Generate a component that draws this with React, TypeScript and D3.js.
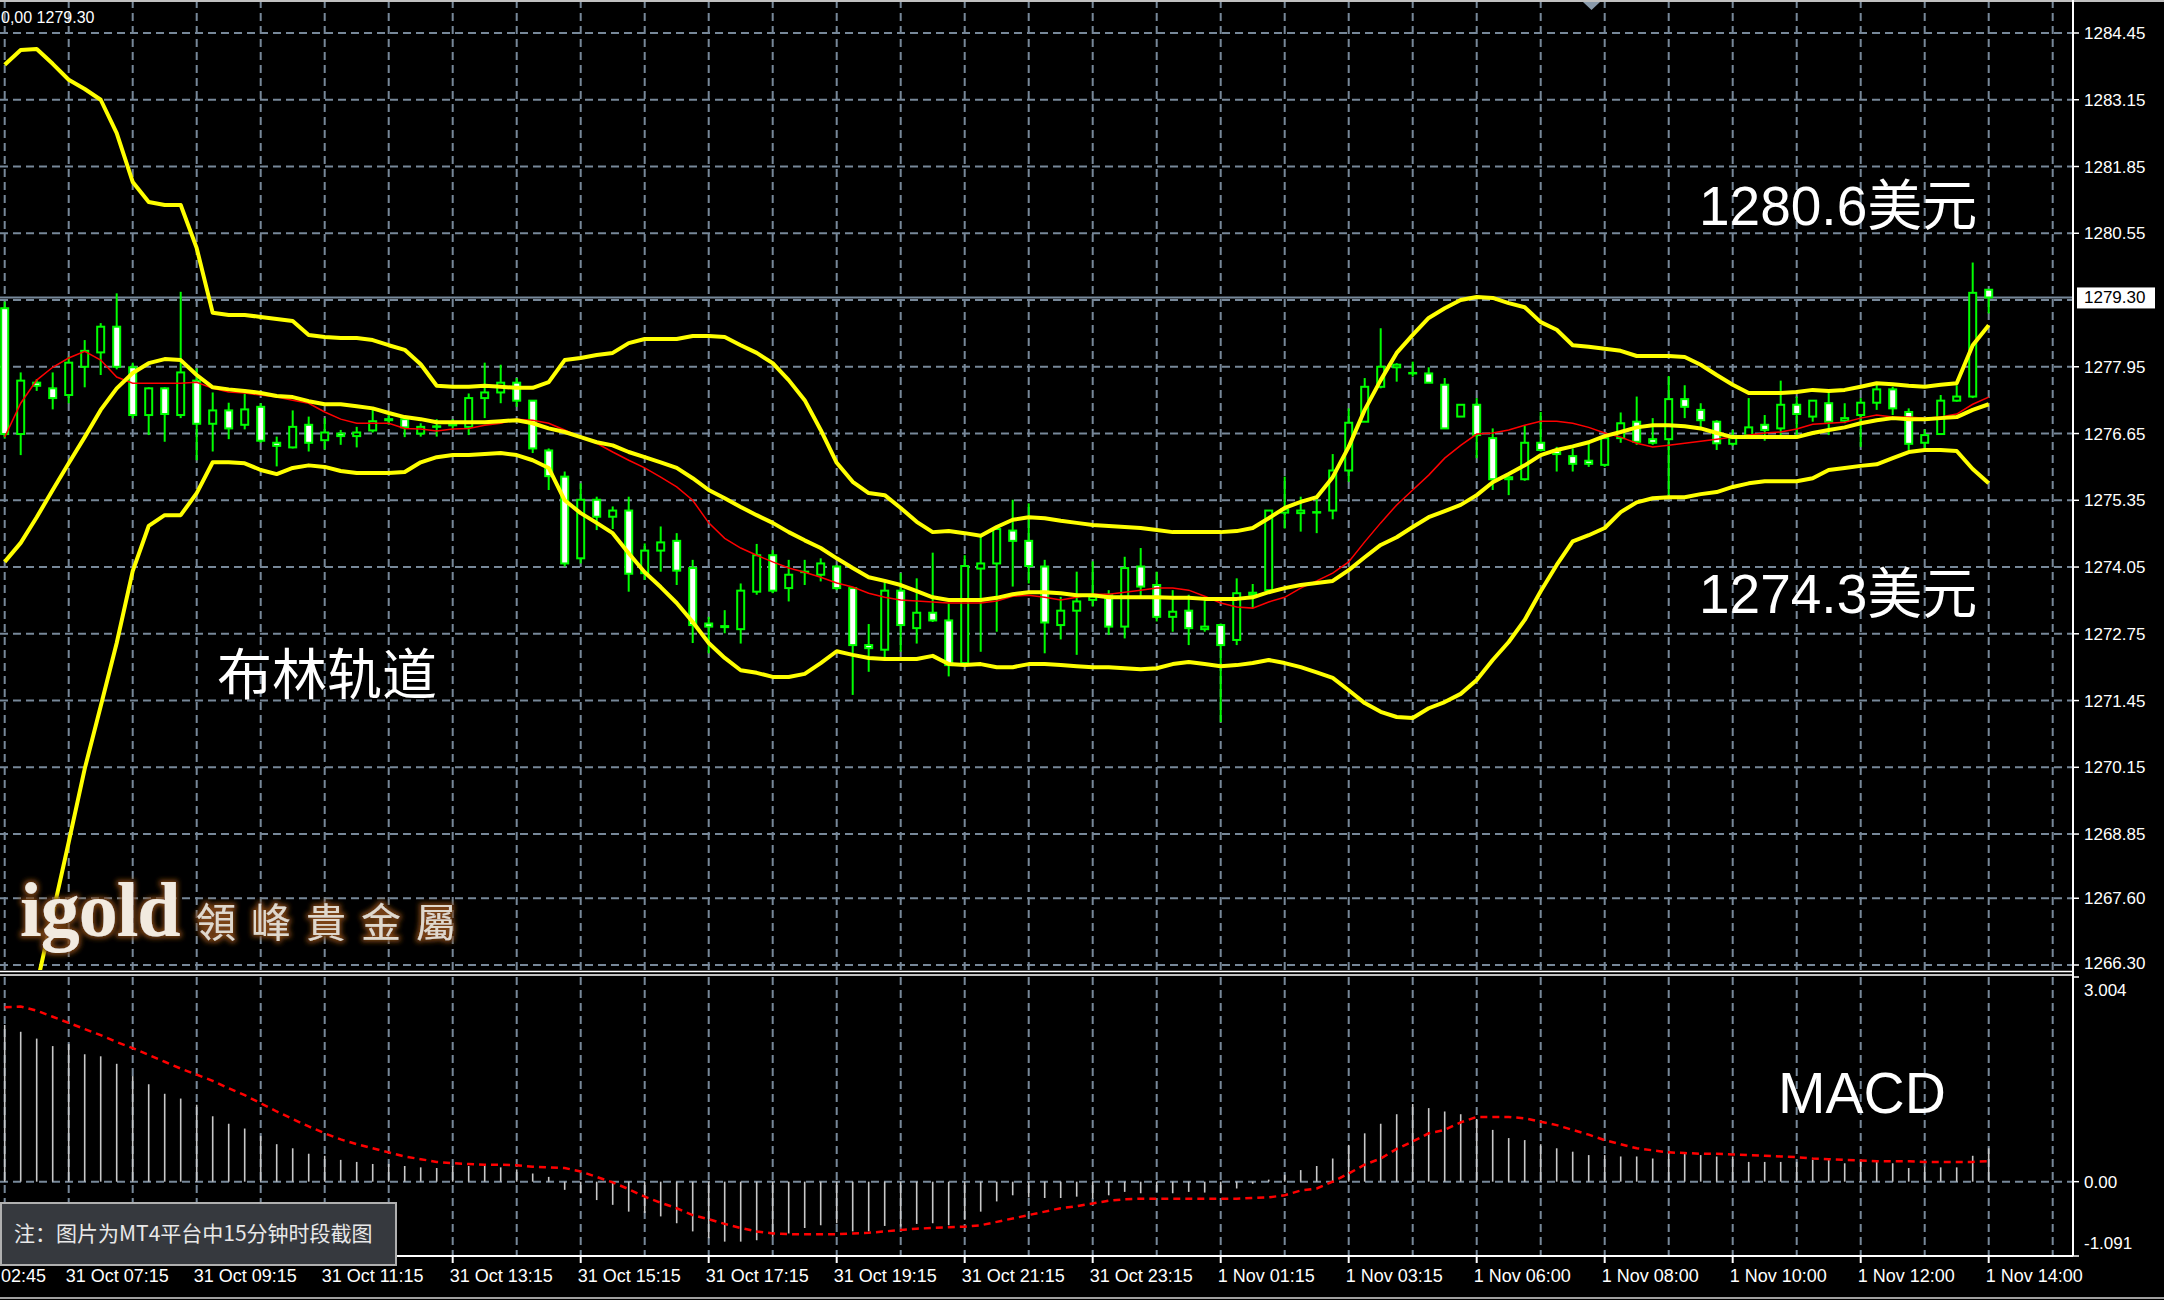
import * as d3 from 'd3';
import { useEffect } from 'react';

const W = 2164;
const H = 1300;

// XAUUSD M15 bars (one value per bar)
const opens = [
  1279.09, 1276.64, 1277.64, 1277.53, 1277.40, 1277.95, 1278.23, 1278.73, 1277.94, 1277.01,
  1277.53, 1277.01, 1277.68, 1276.84, 1277.10, 1276.82, 1277.17, 1276.47, 1276.38, 1276.82,
  1276.52, 1276.65, 1276.60, 1276.71, 1276.91, 1276.93, 1276.65, 1276.78, 1276.81, 1276.78,
  1277.34, 1277.45, 1277.64, 1277.29, 1276.32, 1275.81, 1274.22, 1275.36, 1275.03, 1275.15,
  1273.93, 1274.37, 1274.56, 1274.03, 1272.95, 1272.88, 1272.84, 1273.57, 1274.28, 1273.64,
  1273.95, 1273.90, 1274.06, 1273.64, 1272.53, 1272.44, 1273.59, 1272.86, 1273.16, 1273.01,
  1272.18, 1274.02, 1274.12, 1274.76, 1274.56, 1274.06, 1272.92, 1273.20, 1273.41, 1273.51,
  1272.89, 1274.06, 1273.70, 1273.08, 1273.20, 1272.84, 1272.92, 1272.63, 1273.51, 1273.60,
  1275.11, 1275.10, 1275.11, 1275.15, 1275.93, 1276.88, 1277.56, 1277.94, 1277.82, 1277.82,
  1277.60, 1276.98, 1277.21, 1276.56, 1275.76, 1275.76, 1276.47, 1276.32, 1276.21, 1276.12,
  1276.04, 1276.56, 1276.88, 1276.54, 1276.54, 1277.32, 1277.11, 1276.88, 1276.45, 1276.62,
  1276.82, 1276.75, 1277.21, 1276.98, 1277.24, 1276.90, 1277.01, 1277.25, 1277.51, 1277.07,
  1276.47, 1276.64, 1277.29, 1277.37, 1279.45,
];
const highs = [
  1279.22, 1277.84, 1277.71, 1277.84, 1278.15, 1278.47, 1278.80, 1279.38, 1278.03, 1277.55,
  1277.55, 1279.41, 1277.92, 1277.45, 1277.25, 1277.43, 1277.24, 1276.59, 1277.10, 1276.98,
  1276.95, 1276.72, 1276.78, 1277.11, 1277.01, 1276.98, 1276.85, 1276.93, 1276.93, 1277.43,
  1278.03, 1277.99, 1277.73, 1277.30, 1276.36, 1275.91, 1275.68, 1275.42, 1275.23, 1275.42,
  1274.51, 1274.84, 1274.71, 1274.19, 1273.08, 1273.21, 1273.73, 1274.50, 1274.38, 1274.19,
  1274.19, 1274.22, 1274.09, 1273.65, 1272.94, 1273.77, 1273.93, 1273.83, 1274.33, 1273.34,
  1274.28, 1274.64, 1274.84, 1275.36, 1275.29, 1274.19, 1273.47, 1273.96, 1274.16, 1273.60,
  1274.25, 1274.42, 1273.96, 1273.60, 1273.51, 1273.41, 1272.95, 1273.83, 1273.72, 1275.15,
  1275.81, 1275.42, 1275.37, 1276.25, 1277.14, 1277.73, 1278.70, 1278.02, 1278.05, 1277.94,
  1277.73, 1277.21, 1277.34, 1276.75, 1275.81, 1276.80, 1277.07, 1276.39, 1276.36, 1276.47,
  1276.59, 1277.06, 1277.37, 1276.95, 1277.77, 1277.59, 1277.24, 1276.91, 1276.72, 1277.34,
  1277.01, 1277.68, 1277.37, 1277.30, 1277.51, 1277.24, 1277.34, 1277.64, 1277.56, 1277.14,
  1276.73, 1277.40, 1277.59, 1279.98, 1279.46,
];
const lows = [
  1276.55, 1276.23, 1277.48, 1277.12, 1277.24, 1277.55, 1277.79, 1277.90, 1276.95, 1276.62,
  1276.49, 1276.95, 1276.13, 1276.30, 1276.54, 1276.73, 1276.47, 1276.01, 1276.36, 1276.30,
  1276.34, 1276.43, 1276.38, 1276.67, 1276.82, 1276.58, 1276.59, 1276.59, 1276.73, 1276.62,
  1276.95, 1277.24, 1277.17, 1276.27, 1275.55, 1274.06, 1274.12, 1274.77, 1274.79, 1273.57,
  1273.80, 1273.96, 1273.70, 1272.57, 1272.37, 1272.76, 1272.56, 1273.51, 1273.54, 1273.38,
  1273.70, 1273.77, 1273.60, 1271.56, 1272.01, 1272.27, 1272.40, 1272.56, 1272.98, 1271.92,
  1272.14, 1272.40, 1272.79, 1273.67, 1273.73, 1272.37, 1272.64, 1272.34, 1273.28, 1272.73,
  1272.66, 1273.44, 1272.99, 1272.79, 1272.53, 1272.79, 1271.03, 1272.53, 1273.25, 1273.55,
  1274.80, 1274.74, 1274.71, 1274.98, 1275.71, 1276.88, 1277.53, 1277.66, 1277.76, 1277.64,
  1276.75, 1276.98, 1276.17, 1275.55, 1275.45, 1275.73, 1276.30, 1275.91, 1275.91, 1276.00,
  1276.00, 1276.47, 1276.43, 1276.43, 1275.45, 1276.95, 1276.75, 1276.33, 1276.41, 1276.59,
  1276.51, 1276.62, 1276.62, 1276.88, 1276.62, 1276.85, 1276.39, 1277.11, 1277.01, 1276.33,
  1276.34, 1276.64, 1277.27, 1277.34, 1278.99,
];
const closes = [
  1276.64, 1277.68, 1277.58, 1277.34, 1278.03, 1278.26, 1278.73, 1277.95, 1277.01, 1277.53,
  1277.03, 1277.84, 1276.84, 1277.10, 1276.75, 1277.12, 1276.51, 1276.41, 1276.78, 1276.47,
  1276.67, 1276.60, 1276.67, 1276.89, 1276.93, 1276.77, 1276.78, 1276.79, 1276.85, 1277.34,
  1277.45, 1277.64, 1277.29, 1276.36, 1275.82, 1274.12, 1275.36, 1275.03, 1275.15, 1273.92,
  1274.37, 1274.53, 1273.98, 1272.92, 1272.89, 1272.90, 1273.59, 1274.28, 1273.59, 1273.90,
  1273.96, 1274.12, 1273.64, 1272.53, 1272.47, 1273.59, 1272.92, 1273.16, 1273.01, 1272.14,
  1274.07, 1274.12, 1274.79, 1274.56, 1274.07, 1272.97, 1273.20, 1273.38, 1273.47, 1272.89,
  1274.03, 1273.67, 1273.08, 1273.18, 1272.86, 1272.89, 1272.53, 1273.54, 1273.55, 1275.15,
  1275.17, 1275.15, 1275.12, 1275.93, 1276.86, 1277.56, 1277.95, 1277.99, 1277.83, 1277.64,
  1276.75, 1277.21, 1276.62, 1275.76, 1275.80, 1276.47, 1276.33, 1276.25, 1276.06, 1276.06,
  1276.56, 1276.85, 1276.49, 1276.47, 1277.32, 1277.17, 1276.91, 1276.46, 1276.56, 1276.77,
  1276.72, 1277.21, 1277.03, 1277.29, 1276.88, 1276.95, 1277.25, 1277.51, 1277.14, 1276.45,
  1276.62, 1277.29, 1277.37, 1279.39, 1279.30,
];

// Bollinger bands (yellow) and the thin red moving average
const bbUpper = [
  1283.83, 1284.12, 1284.14, 1283.85, 1283.54, 1283.36, 1283.15, 1282.50, 1281.55, 1281.16,
  1281.10, 1281.10, 1280.26, 1279.00, 1278.96, 1278.96, 1278.92, 1278.88, 1278.84, 1278.57,
  1278.53, 1278.51, 1278.51, 1278.47, 1278.37, 1278.28, 1278.00, 1277.58, 1277.56, 1277.56,
  1277.58, 1277.56, 1277.54, 1277.54, 1277.65, 1278.08, 1278.12, 1278.18, 1278.22, 1278.41,
  1278.49, 1278.49, 1278.49, 1278.55, 1278.55, 1278.53, 1278.37, 1278.22, 1278.02, 1277.69,
  1277.30, 1276.72, 1276.08, 1275.71, 1275.49, 1275.45, 1275.20, 1274.93, 1274.73, 1274.75,
  1274.71, 1274.66, 1274.83, 1274.97, 1275.02, 1275.00, 1274.95, 1274.91, 1274.87, 1274.85,
  1274.83, 1274.81, 1274.77, 1274.73, 1274.73, 1274.73, 1274.73, 1274.75, 1274.81, 1275.00,
  1275.20, 1275.32, 1275.41, 1275.80, 1276.39, 1277.11, 1277.69, 1278.22, 1278.57, 1278.90,
  1279.09, 1279.25, 1279.31, 1279.29, 1279.19, 1279.11, 1278.82, 1278.67, 1278.37, 1278.34,
  1278.30, 1278.26, 1278.16, 1278.16, 1278.16, 1278.14, 1277.99, 1277.79, 1277.60, 1277.44,
  1277.44, 1277.44, 1277.46, 1277.50, 1277.48, 1277.50, 1277.56, 1277.63, 1277.61, 1277.58,
  1277.56, 1277.60, 1277.63, 1278.37, 1278.76,
];
const bbMiddle = [
  1274.15, 1274.52, 1275.02, 1275.55, 1276.07, 1276.58, 1277.11, 1277.53, 1277.83, 1278.02,
  1278.10, 1278.08, 1277.79, 1277.55, 1277.51, 1277.48, 1277.44, 1277.38, 1277.36, 1277.28,
  1277.22, 1277.22, 1277.18, 1277.14, 1277.05, 1276.97, 1276.93, 1276.87, 1276.87, 1276.87,
  1276.87, 1276.89, 1276.91, 1276.85, 1276.75, 1276.68, 1276.58, 1276.48, 1276.42, 1276.29,
  1276.19, 1276.09, 1275.98, 1275.78, 1275.55, 1275.39, 1275.22, 1275.06, 1274.91, 1274.73,
  1274.57, 1274.42, 1274.22, 1274.03, 1273.85, 1273.78, 1273.70, 1273.58, 1273.46, 1273.41,
  1273.41, 1273.41, 1273.45, 1273.52, 1273.56, 1273.56, 1273.54, 1273.50, 1273.50, 1273.46,
  1273.46, 1273.46, 1273.46, 1273.45, 1273.45, 1273.43, 1273.43, 1273.43, 1273.46, 1273.56,
  1273.64, 1273.70, 1273.74, 1273.78, 1273.99, 1274.24, 1274.48, 1274.63, 1274.83, 1275.02,
  1275.14, 1275.26, 1275.45, 1275.70, 1275.86, 1276.03, 1276.23, 1276.33, 1276.40, 1276.48,
  1276.60, 1276.68, 1276.77, 1276.81, 1276.81, 1276.79, 1276.75, 1276.66, 1276.58, 1276.58,
  1276.58, 1276.58, 1276.58, 1276.66, 1276.72, 1276.77, 1276.85, 1276.91, 1276.95, 1276.93,
  1276.93, 1276.95, 1276.97, 1277.11, 1277.22,
];
const bbLower = [
  1263.15, 1264.53, 1265.91, 1267.29, 1268.69, 1270.12, 1271.34, 1272.57, 1273.97, 1274.85,
  1275.06, 1275.06, 1275.49, 1276.09, 1276.09, 1276.07, 1275.94, 1275.86, 1275.98, 1276.03,
  1276.00, 1275.92, 1275.88, 1275.88, 1275.88, 1275.90, 1276.09, 1276.19, 1276.23, 1276.23,
  1276.25, 1276.27, 1276.23, 1276.13, 1275.98, 1275.35, 1275.10, 1274.91, 1274.71, 1274.32,
  1273.95, 1273.66, 1273.35, 1272.98, 1272.57, 1272.28, 1272.04, 1271.99, 1271.91, 1271.91,
  1271.97, 1272.18, 1272.41, 1272.34, 1272.28, 1272.26, 1272.26, 1272.26, 1272.32, 1272.16,
  1272.14, 1272.16, 1272.10, 1272.10, 1272.16, 1272.16, 1272.14, 1272.12, 1272.10, 1272.10,
  1272.08, 1272.06, 1272.08, 1272.16, 1272.20, 1272.16, 1272.12, 1272.14, 1272.18, 1272.24,
  1272.18, 1272.10, 1272.00, 1271.89, 1271.65, 1271.40, 1271.23, 1271.13, 1271.11, 1271.30,
  1271.42, 1271.58, 1271.85, 1272.24, 1272.59, 1273.02, 1273.58, 1274.09, 1274.55, 1274.67,
  1274.81, 1275.12, 1275.31, 1275.39, 1275.41, 1275.41, 1275.47, 1275.51, 1275.61, 1275.68,
  1275.72, 1275.72, 1275.72, 1275.78, 1275.94, 1275.98, 1276.02, 1276.05, 1276.17, 1276.29,
  1276.33, 1276.33, 1276.31, 1275.96, 1275.68,
];
const maRed = [
  1276.58, 1277.24, 1277.69, 1277.94, 1278.12, 1278.25, 1278.08, 1277.75, 1277.63, 1277.63,
  1277.63, 1277.63, 1277.65, 1277.53, 1277.46, 1277.44, 1277.40, 1277.36, 1277.30, 1277.24,
  1277.07, 1276.93, 1276.85, 1276.85, 1276.85, 1276.75, 1276.74, 1276.70, 1276.74, 1276.75,
  1276.81, 1276.85, 1276.93, 1276.91, 1276.85, 1276.72, 1276.58, 1276.46, 1276.29, 1276.13,
  1275.98, 1275.80, 1275.61, 1275.35, 1274.91, 1274.61, 1274.42, 1274.28, 1274.15, 1274.03,
  1273.95, 1273.85, 1273.74, 1273.66, 1273.54, 1273.46, 1273.41, 1273.39, 1273.37, 1273.35,
  1273.35, 1273.35, 1273.39, 1273.48, 1273.50, 1273.46, 1273.41, 1273.46, 1273.52, 1273.52,
  1273.56, 1273.60, 1273.64, 1273.64, 1273.60, 1273.48, 1273.35, 1273.27, 1273.25, 1273.37,
  1273.46, 1273.64, 1273.78, 1273.93, 1274.15, 1274.54, 1274.91, 1275.26, 1275.55, 1275.84,
  1276.17, 1276.42, 1276.64, 1276.66, 1276.72, 1276.81, 1276.89, 1276.89, 1276.85, 1276.77,
  1276.66, 1276.58, 1276.46, 1276.39, 1276.42, 1276.46, 1276.50, 1276.54, 1276.58, 1276.62,
  1276.66, 1276.68, 1276.74, 1276.83, 1276.85, 1276.87, 1276.95, 1277.01, 1276.97, 1276.97,
  1276.95, 1276.97, 1277.03, 1277.22, 1277.36,
];

// MACD sub-window: histogram (silver) and signal (red dashed)
const macdHist = [
  2.30, 2.20, 2.10, 1.99, 2.02, 1.87, 1.84, 1.73, 1.55, 1.43,
  1.29, 1.22, 1.13, 0.96, 0.85, 0.78, 0.67, 0.55, 0.49, 0.41,
  0.38, 0.32, 0.29, 0.26, 0.26, 0.23, 0.21, 0.20, 0.23, 0.23,
  0.23, 0.21, 0.18, 0.12, 0.07, -0.12, -0.17, -0.27, -0.34, -0.44,
  -0.46, -0.51, -0.61, -0.73, -0.83, -0.88, -0.88, -0.86, -0.81, -0.76,
  -0.68, -0.64, -0.61, -0.73, -0.73, -0.65, -0.66, -0.62, -0.61, -0.64,
  -0.56, -0.44, -0.29, -0.20, -0.23, -0.24, -0.24, -0.22, -0.25, -0.20,
  -0.15, -0.17, -0.15, -0.17, -0.15, -0.16, -0.17, -0.10, -0.03, 0.03,
  0.10, 0.17, 0.23, 0.34, 0.54, 0.71, 0.85, 0.99, 1.14, 1.08,
  1.03, 0.99, 0.92, 0.76, 0.64, 0.61, 0.55, 0.49, 0.44, 0.39,
  0.39, 0.37, 0.37, 0.34, 0.44, 0.42, 0.39, 0.37, 0.37, 0.29,
  0.29, 0.29, 0.29, 0.32, 0.32, 0.27, 0.32, 0.29, 0.27, 0.20,
  0.22, 0.21, 0.21, 0.38, 0.49,
];
const macdSignal = [
  2.56, 2.57, 2.51, 2.42, 2.33, 2.24, 2.15, 2.05, 1.96, 1.86,
  1.76, 1.66, 1.57, 1.48, 1.37, 1.27, 1.15, 1.03, 0.92, 0.81,
  0.71, 0.62, 0.55, 0.49, 0.43, 0.37, 0.33, 0.29, 0.27, 0.26,
  0.25, 0.25, 0.24, 0.22, 0.21, 0.20, 0.15, 0.07, -0.01, -0.11,
  -0.22, -0.31, -0.39, -0.49, -0.55, -0.62, -0.68, -0.73, -0.76, -0.77,
  -0.77, -0.77, -0.77, -0.76, -0.75, -0.73, -0.71, -0.69, -0.68, -0.67,
  -0.66, -0.64, -0.59, -0.54, -0.49, -0.44, -0.39, -0.36, -0.32, -0.28,
  -0.26, -0.25, -0.25, -0.25, -0.25, -0.25, -0.25, -0.25, -0.24, -0.23,
  -0.20, -0.13, -0.10, 0.00, 0.12, 0.25, 0.34, 0.48, 0.59, 0.71,
  0.76, 0.87, 0.95, 0.95, 0.95, 0.93, 0.88, 0.83, 0.76, 0.69,
  0.61, 0.55, 0.49, 0.46, 0.43, 0.42, 0.41, 0.41, 0.40, 0.39,
  0.38, 0.37, 0.36, 0.34, 0.33, 0.32, 0.31, 0.30, 0.30, 0.30,
  0.29, 0.29, 0.29, 0.29, 0.30,
];

const priceGrid = [
  1284.45, 1283.15, 1281.85, 1280.55, 1279.25, 1277.95, 1276.65, 1275.35,
  1274.05, 1272.75, 1271.45, 1270.15, 1268.85, 1267.60, 1266.30,
];
const priceLabels = [
  1284.45, 1283.15, 1281.85, 1280.55, 1277.95, 1276.65, 1275.35,
  1274.05, 1272.75, 1271.45, 1270.15, 1268.85, 1267.60, 1266.30,
];
const lastPrice = 1279.3;
const macdLabels = [3.004, 0, -1.091];

const timeBars = [4, 12, 20, 28, 36, 44, 52, 60, 68, 76, 84, 92, 100, 108, 116, 124];
const timeLabels = [
  '31 Oct 07:15', '31 Oct 09:15', '31 Oct 11:15', '31 Oct 13:15', '31 Oct 15:15',
  '31 Oct 17:15', '31 Oct 19:15', '31 Oct 21:15', '31 Oct 23:15', '1 Nov 01:15',
  '1 Nov 03:15', '1 Nov 06:00', '1 Nov 08:00', '1 Nov 10:00', '1 Nov 12:00', '1 Nov 14:00',
];
// only the time part of the first label is on screen
const firstTimeLabel = '02:45';

const AX = '"Liberation Sans", Arial, sans-serif';
const CJK = '"Liberation Sans", "Noto Sans CJK SC", sans-serif';

export default function App() {
  useEffect(() => {
    document.body.style.margin = '0';
    document.body.style.background = '#000';
  }, []);

  const axisX = 2073;
  const mainBottom = 970;
  const subTop = 977;
  const subBottom = 1256;
  const grid = '#778899';

  const x = d3.scaleLinear().domain([0, 124]).range([4.7, 1988.7]);
  const y = d3.scaleLinear().domain([1266.3, 1284.45]).range([965, 33]);
  const ym = d3.scaleLinear().domain([-1.091, 3.004]).range([subBottom, subTop]);

  const gridBars = d3.range(0, 129, 4);
  const priceLine = d3.line<number>().x((_, i) => x(i)).y(d => y(d));
  const signalLine = d3.line<number>().x((_, i) => x(i)).y(d => ym(d));

  const clampY = (v: number, lo: number, hi: number) => Math.max(lo, Math.min(hi, v));

  return (
    <svg width={W} height={H} style={{ display: 'block', background: '#000' }}>
      <defs>
        <clipPath id="main"><rect x={0} y={0} width={axisX} height={mainBottom} /></clipPath>
        <clipPath id="sub"><rect x={0} y={subTop} width={axisX} height={subBottom - subTop} /></clipPath>
        <filter id="glow" x="-20%" y="-40%" width="140%" height="180%">
          <feMorphology in="SourceAlpha" operator="dilate" radius={2} result="d" />
          <feGaussianBlur in="d" stdDeviation={2.5} result="b" />
          <feFlood floodColor="#7a4214" />
          <feComposite in2="b" operator="in" result="g" />
          <feMerge><feMergeNode in="g" /><feMergeNode in="SourceGraphic" /></feMerge>
        </filter>
      </defs>

      <rect x={0} y={0} width={W} height={H} fill="#000" />

      {/* grid, main window */}
      <g clipPath="url(#main)" stroke={grid} strokeWidth={2} strokeDasharray="8 5">
        {priceGrid.map(p => (
          <line key={p} x1={0} x2={axisX} y1={y(p)} y2={y(p)} />
        ))}
        {gridBars.map(b => (
          <line key={b} x1={x(b)} x2={x(b)} y1={0} y2={mainBottom} />
        ))}
      </g>
      <line x1={0} x2={axisX} y1={y(lastPrice)} y2={y(lastPrice)} stroke={grid} strokeWidth={2} />

      {/* candles */}
      <g clipPath="url(#main)">
        {opens.map((o, i) => {
          const c = closes[i];
          const cx = x(i);
          const top = y(Math.max(o, c));
          const bot = y(Math.min(o, c));
          return (
            <g key={i}>
              <line x1={cx} x2={cx} y1={y(highs[i])} y2={y(lows[i])} stroke="#00ff00" strokeWidth={2} />
              <rect x={cx - 3.5} y={top} width={7} height={Math.max(bot - top, 0.5)}
                fill={c > o ? '#000' : '#fff'} stroke="#00ff00" strokeWidth={2} />
            </g>
          );
        })}
        <path d={priceLine(maRed) ?? ''} fill="none" stroke="#ff0000" strokeWidth={1.5} />
        {[bbUpper, bbMiddle, bbLower].map((s, j) => (
          <path key={j} d={priceLine(s) ?? ''} fill="none" stroke="#ffff00" strokeWidth={4} strokeLinejoin="round" />
        ))}
      </g>

      {/* MACD window */}
      <g clipPath="url(#sub)">
        <g stroke={grid} strokeWidth={2} strokeDasharray="8 5">
          {gridBars.map(b => (
            <line key={b} x1={x(b)} x2={x(b)} y1={subTop} y2={subBottom} />
          ))}
          <line x1={0} x2={axisX} y1={ym(0)} y2={ym(0)} />
        </g>
        {macdHist.map((v, i) => (
          <line key={i} x1={x(i)} x2={x(i)} y1={ym(0)} y2={ym(v)} stroke="#c8c8c8" strokeWidth={1.6} />
        ))}
        <path d={signalLine(macdSignal) ?? ''} fill="none" stroke="#ff0000" strokeWidth={2.5} strokeDasharray="7 5" />
      </g>

      {/* frames */}
      <line x1={0} x2={W} y1={1} y2={1} stroke="#c0c0c0" strokeWidth={2} />
      <line x1={0} x2={axisX} y1={971.5} y2={971.5} stroke="#fff" strokeWidth={1.6} />
      <line x1={0} x2={axisX} y1={975} y2={975} stroke="#fff" strokeWidth={1.6} />
      <line x1={0} x2={axisX} y1={subBottom} y2={subBottom} stroke="#fff" strokeWidth={2} />
      <line x1={axisX} x2={axisX} y1={0} y2={subBottom} stroke="#fff" strokeWidth={2} />
      <line x1={0} x2={W} y1={1298} y2={1298} stroke="#a0a0a0" strokeWidth={2} />
      <polygon points="1583,2 1600,2 1591.5,10" fill="#8899aa" />

      {/* price axis */}
      <g fontFamily={AX} fontSize={17} fill="#fff">
        {priceLabels.map(p => {
          const py = clampY(y(p), 12, mainBottom - 7);
          return (
            <g key={p}>
              <line x1={axisX} x2={axisX + 6} y1={y(p)} y2={y(p)} stroke="#fff" strokeWidth={1.5} />
              <text x={2084} y={py + 6}>{p.toFixed(2)}</text>
            </g>
          );
        })}
        <rect x={2077} y={y(lastPrice) - 10} width={78} height={21} fill="#fff" />
        <text x={2084} y={y(lastPrice) + 6} fill="#000">{lastPrice.toFixed(2)}</text>
        {macdLabels.map(v => (
          <g key={v}>
            <line x1={axisX} x2={axisX + 6} y1={ym(v)} y2={ym(v)} stroke="#fff" strokeWidth={1.5} />
            <text x={2084} y={clampY(ym(v), subTop + 13, subBottom - 13) + 6}>
              {v === 0 ? '0.00' : v.toFixed(3)}
            </text>
          </g>
        ))}
      </g>

      {/* time axis */}
      <g fontFamily={AX} fontSize={18} fill="#fff">
        {timeBars.map((b, i) => (
          <g key={b}>
            <line x1={x(b)} x2={x(b)} y1={subBottom} y2={subBottom + 7} stroke="#fff" strokeWidth={2} />
            <text x={x(b) - 3} y={1282}>{timeLabels[i]}</text>
          </g>
        ))}
        <text x={1} y={1282}>{firstTimeLabel}</text>
      </g>

      {/* header */}
      <text x={1} y={23} fontFamily={AX} fontSize={16} fill="#fff">0,00 1279.30</text>

      {/* annotations */}
      <g fill="#fff" fontFamily={CJK}>
        <text x={1699} y={225} fontSize={55}>1280.6美元</text>
        <text x={1699} y={613} fontSize={55}>1274.3美元</text>
        <text x={217} y={694} fontSize={55} fontFamily='"Noto Sans CJK SC", sans-serif'>布林轨道</text>
        <text x={1778} y={1113} fontSize={57}>MACD</text>
      </g>

      {/* watermark */}
      <text x={20} y={936} fontFamily='"Liberation Serif", "DejaVu Serif", serif' fontWeight={700}
        fontSize={78} fill="#f2eadf" filter="url(#glow)" letterSpacing={-1}>igold</text>
      <text x={196} y={937} fontFamily='"Noto Sans CJK TC", sans-serif' fontSize={40}
        letterSpacing={15} fill="#e0d8cc" filter="url(#glow)">領峰貴金屬</text>

      {/* note box */}
      <rect x={1} y={1203} width={395} height={62} fill="#36393e" stroke="#b0b0b0" strokeWidth={2} />
      <text x={14} y={1241} fontFamily='"Noto Sans CJK SC", sans-serif' fontSize={21} fill="#e8e8e8">
        注：图片为MT4平台中15分钟时段截图
      </text>
    </svg>
  );
}
